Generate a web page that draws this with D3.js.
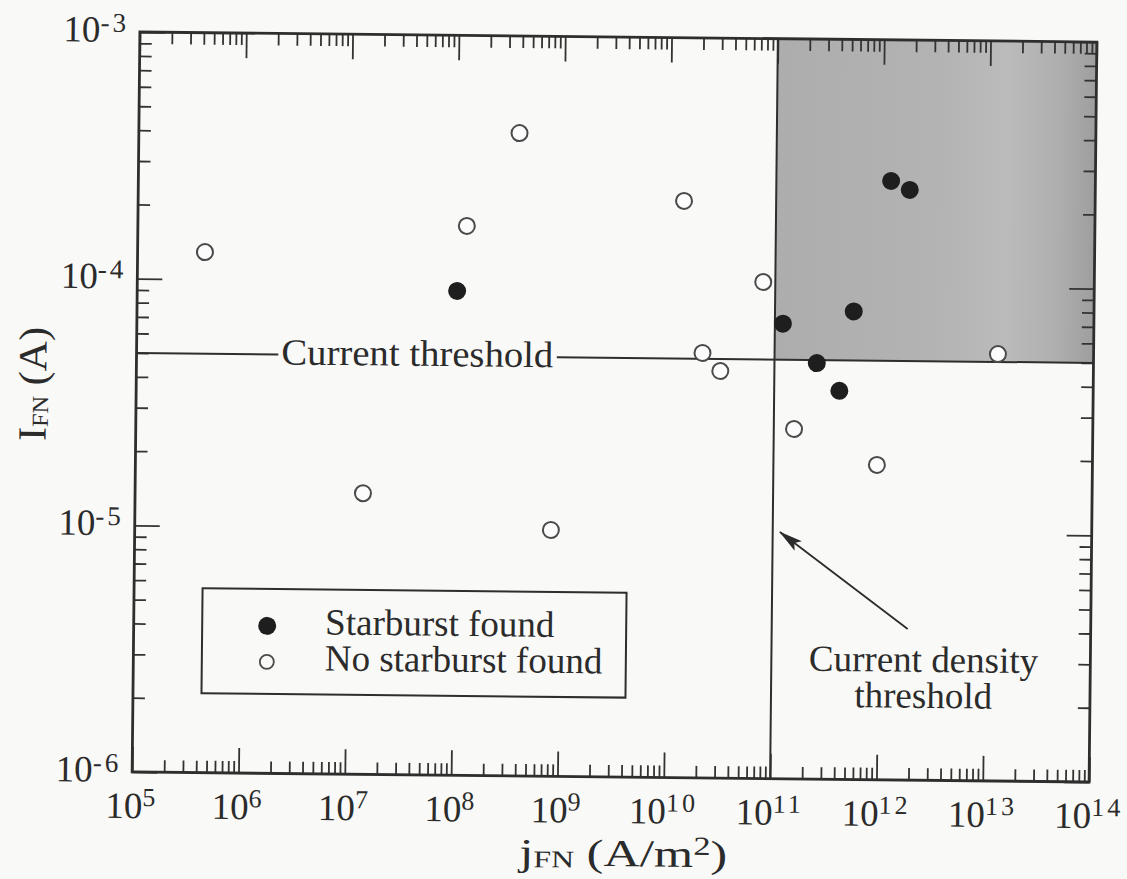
<!DOCTYPE html>
<html>
<head>
<meta charset="utf-8">
<script src="https://cdn.jsdelivr.net/npm/d3@7"></script>
<style>
  body { margin: 0; background: #f9f9f7; }
  text { font-family: "Liberation Serif", "Times New Roman", serif; fill: #2b2b2b; }
</style>
</head>
<body>
<script>
// data (j in A/m2, I in A)
var starJ = [1.02e8, 1.19e11, 5.5e11, 1.2e12, 1.8e12, 2.5e11, 4.1e11];
var starI = [9.2e-5, 7.0e-5, 7.9e-5, 2.68e-4, 2.47e-4, 4.86e-5, 3.76e-5];

var noJ = [4.3e5, 1.24e8, 3.8e8, 1.36e10, 7.7e10, 2.1e10, 3.1e10, 1.55e11, 9.4e11, 1.26e13, 1.39e7, 8.2e8];
var noI = [1.29e-4, 1.69e-4, 4.04e-4, 2.18e-4, 1.03e-4, 5.28e-5, 4.47e-5, 2.62e-5, 1.89e-5, 5.38e-5, 1.38e-5, 9.97e-6];

var xExps = [5, 6, 7, 8, 9, 10, 11, 12, 13, 14];
var yExps = [-6, -5, -4, -3];

var currentThreshold = 5e-5;
var densityThreshold = 1e11;

var legendLabels = ["Starburst found", "No starburst found"];

// annotation anchors, in data units
var ctLabelJ = 2.3e6;
var cdLabel = { j: 2.7e12, i: 2.75e-6 };
var arrowFrom = { j: 1.9e12, i: 4.1e-6 };
var arrowTo = { j: 1.17e11, i: 1.0e-5 };

// --------------------------------------------------------------- //
// note: "top" is taken by window.top, so plot edges get p* names
var W = 1127, H = 879;
var pLeft = 136, pRight = 1093, pTop = 37, pBottom = 777;

var svg = d3.select("body").append("svg").attr("width", W).attr("height", H);
svg.append("rect").attr("width", W).attr("height", H).attr("fill", "#f9f9f7");

var defs = svg.append("defs");
var grad = defs.append("linearGradient").attr("id", "shade")
  .attr("gradientUnits", "userSpaceOnUse");
// scan shading: mostly flat grey, a touch lighter right of centre, darker at the edge
[[0, "#adadad"], [0.5, "#b3b3b3"], [0.72, "#bbbbbb"], [0.88, "#afafaf"], [1, "#9e9e9e"]]
  .forEach(function(s) { grad.append("stop").attr("offset", s[0]).attr("stop-color", s[1]); });

defs.append("marker").attr("id", "head")
  .attr("markerUnits", "userSpaceOnUse")
  .attr("viewBox", "0 0 24 12").attr("refX", 23).attr("refY", 6)
  .attr("markerWidth", 24).attr("markerHeight", 12).attr("orient", "auto")
  .append("path").attr("d", "M0,0 L24,6 L0,12 L5,6 z").attr("fill", "#2b2b2b");

// the scanned page is slightly rotated
var g = svg.append("g").attr("transform", "rotate(0.6,614.5,407)");

var x = d3.scaleLog().domain([1e5, 1e14]).range([pLeft, pRight]);
var y = d3.scaleLog().domain([1e-6, 1e-3]).range([pBottom, pTop]);

function minorTicks(e0, e1) {
  var out = [];
  for (var e = e0; e < e1; e++) for (var m = 2; m <= 9; m++) out.push(m * Math.pow(10, e));
  return out;
}
var xMajor = xExps.map(function(e) { return Math.pow(10, e); });
var yMajor = yExps.map(function(e) { return Math.pow(10, e); });
var xMinor = minorTicks(5, 14);
var yMinor = minorTicks(-6, -3);

// shaded region: above current threshold and right of density threshold
g.append("rect")
  .attr("x", x(densityThreshold)).attr("y", pTop)
  .attr("width", pRight - x(densityThreshold))
  .attr("height", y(currentThreshold) - pTop)
  .attr("fill", "url(#shade)");
grad.attr("x1", x(densityThreshold)).attr("x2", pRight).attr("y1", 0).attr("y2", 0);

// ticks, all pointing inward
function tickStyle(sel) {
  sel.select(".domain").remove();
  sel.selectAll(".tick line").attr("stroke", "#333").attr("stroke-width", 1.8);
  sel.selectAll(".tick text").remove();
}
var axes = [
  [d3.axisBottom, x, xMajor, xMinor, "translate(0," + pBottom + ")"],
  [d3.axisTop, x, xMajor, xMinor, "translate(0," + pTop + ")"],
  [d3.axisLeft, y, yMajor, yMinor, "translate(" + pLeft + ",0)"],
  [d3.axisRight, y, yMajor, yMinor, "translate(" + pRight + ",0)"]
];
axes.forEach(function(a) {
  g.append("g").attr("transform", a[4])
    .call(a[0](a[1]).tickValues(a[3]).tickSizeInner(-12).tickSizeOuter(0).tickFormat(""))
    .call(tickStyle);
  g.append("g").attr("transform", a[4])
    .call(a[0](a[1]).tickValues(a[2]).tickSizeInner(-25).tickSizeOuter(0).tickFormat(""))
    .call(tickStyle);
});

// frame
g.append("rect")
  .attr("x", pLeft).attr("y", pTop).attr("width", pRight - pLeft).attr("height", pBottom - pTop)
  .attr("fill", "none").attr("stroke", "#2e2e2e").attr("stroke-width", 2.8);

// tick labels: 10 with raised exponent
var xl = g.append("g").selectAll("text").data(xExps).join("text")
  .attr("x", function(e) { return x(Math.pow(10, e)); })
  .attr("y", pBottom + 46)
  .attr("text-anchor", "middle")
  .attr("font-size", 37);
xl.append("tspan").text("10");
xl.append("tspan").attr("dy", -12).attr("font-size", 26).attr("letter-spacing", 3).text(function(e) { return e; });

var yl = g.append("g").selectAll("text").data(yExps).join("text")
  .attr("x", pLeft - 11)
  .attr("y", function(e) { return y(Math.pow(10, e)) + 10; })
  .attr("text-anchor", "end")
  .attr("font-size", 37);
yl.append("tspan").text("10");
yl.append("tspan").attr("dy", -10).attr("font-size", 27).attr("letter-spacing", 3).text(function(e) { return e; });

// axis titles
var yt = g.append("text")
  .attr("transform", "translate(46,390) rotate(-90)")
  .attr("text-anchor", "middle").attr("font-size", 40)
  .attr("textLength", 114).attr("lengthAdjust", "spacingAndGlyphs");
yt.append("tspan").text("I");
yt.append("tspan").attr("font-size", 23).attr("dy", 2).text("FN");
yt.append("tspan").attr("dy", -2).text(" (A)");

var xt = g.append("text")
  .attr("x", 628).attr("y", 866)
  .attr("text-anchor", "middle").attr("font-size", 38)
  .attr("textLength", 208).attr("lengthAdjust", "spacingAndGlyphs");
xt.append("tspan").text("j");
xt.append("tspan").attr("font-size", 24).attr("dy", 2).text("FN");
xt.append("tspan").attr("dy", -2).text(" (A/m");
xt.append("tspan").attr("font-size", 26).attr("dy", -12).text("2");
xt.append("tspan").attr("dy", 12).text(")");

// thresholds
var ctText = g.append("text")
  .attr("x", x(ctLabelJ)).attr("y", y(currentThreshold) + 10)
  .attr("font-size", 37)
  .attr("textLength", 272).attr("lengthAdjust", "spacingAndGlyphs")
  .text("Current threshold");
var bb = ctText.node().getBBox();

var thr = g.append("g").attr("stroke", "#2e2e2e").attr("stroke-width", 2);
thr.append("line")
  .attr("x1", pLeft).attr("x2", bb.x - 3)
  .attr("y1", y(currentThreshold)).attr("y2", y(currentThreshold));
thr.append("line")
  .attr("x1", bb.x + bb.width + 3).attr("x2", pRight)
  .attr("y1", y(currentThreshold)).attr("y2", y(currentThreshold));
thr.append("line")
  .attr("x1", x(densityThreshold)).attr("x2", x(densityThreshold))
  .attr("y1", pTop).attr("y2", pBottom);

// annotation with arrow
g.append("text")
  .attr("x", x(cdLabel.j)).attr("y", y(cdLabel.i))
  .attr("text-anchor", "middle").attr("font-size", 37)
  .selectAll("tspan").data(["Current density", "threshold"]).join("tspan")
  .attr("x", x(cdLabel.j)).attr("dy", function(d, i) { return i ? 36 : 0; })
  .text(function(d) { return d; });

g.append("line")
  .attr("x1", x(arrowFrom.j)).attr("y1", y(arrowFrom.i))
  .attr("x2", x(arrowTo.j)).attr("y2", y(arrowTo.i))
  .attr("stroke", "#2b2b2b").attr("stroke-width", 1.8)
  .attr("marker-end", "url(#head)");

// points
g.append("g").selectAll("circle").data(d3.zip(noJ, noI)).join("circle")
  .attr("cx", function(d) { return x(d[0]); })
  .attr("cy", function(d) { return y(d[1]); })
  .attr("r", 8)
  .attr("fill", "#fcfcfc").attr("stroke", "#4a4a4a").attr("stroke-width", 2);

g.append("g").selectAll("circle").data(d3.zip(starJ, starI)).join("circle")
  .attr("cx", function(d) { return x(d[0]); })
  .attr("cy", function(d) { return y(d[1]); })
  .attr("r", 9)
  .attr("fill", "#1e1e1e");

// legend
var lg = g.append("g").attr("transform", "translate(204.5,592.5)");
lg.append("rect").attr("width", 424).attr("height", 105)
  .attr("fill", "none").attr("stroke", "#2e2e2e").attr("stroke-width", 2);
var li = lg.selectAll("g").data(legendLabels).join("g")
  .attr("transform", function(d, i) { return "translate(0," + (i * 36) + ")"; });
li.append("circle").attr("cx", 65).attr("cy", 37).attr("r", function(d, i) { return i ? 7 : 9; })
  .attr("fill", function(d, i) { return i ? "none" : "#1e1e1e"; })
  .attr("stroke", function(d, i) { return i ? "#4a4a4a" : "none"; })
  .attr("stroke-width", 1.8);
li.append("text").attr("x", 123).attr("y", 45).attr("font-size", 37)
  .text(function(d) { return d; });
</script>
</body>
</html>
